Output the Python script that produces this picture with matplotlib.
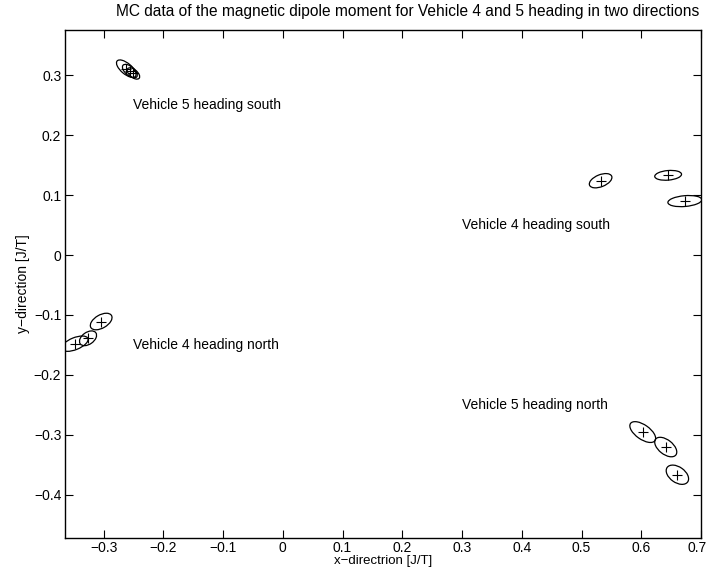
import numpy as np
import matplotlib
matplotlib.use("Agg")
import matplotlib.pyplot as plt
from matplotlib.patches import Ellipse
from matplotlib.transforms import ScaledTranslation

plt.rcParams['font.family'] = ['Liberation Sans', 'DejaVu Sans']

# MC-Daten: Mittelpunkte und Kovarianz-Ellipsen (Breite, Hoehe, Winkel)
v5_south_x = [-0.262, -0.256, -0.250]
v5_south_y = [0.311, 0.307, 0.303]
v5_south_w = [0.040, 0.030, 0.025]
v5_south_h = [0.018, 0.015, 0.013]
v5_south_a = [-40, -40, -40]

v4_north_x = [-0.304, -0.326, -0.348]
v4_north_y = [-0.111, -0.139, -0.148]
v4_north_w = [0.040, 0.032, 0.047]
v4_north_h = [0.022, 0.020, 0.020]
v4_north_a = [30, 35, 22]

v4_south_x = [0.532, 0.645, 0.673]
v4_south_y = [0.124, 0.133, 0.090]
v4_south_w = [0.040, 0.045, 0.057]
v4_south_h = [0.020, 0.016, 0.018]
v4_south_a = [22, 5, 5]

v5_north_x = [0.6025, 0.641, 0.6605]
v5_north_y = [-0.2955, -0.3205, -0.3667]
v5_north_w = [0.050, 0.043, 0.042]
v5_north_h = [0.024, 0.024, 0.026]
v5_north_a = [-35, -38, -35]

labels = ['Vehicle 5 heading south', 'Vehicle 4 heading south',
          'Vehicle 4 heading north', 'Vehicle 5 heading north']
label_x = [-0.25, 0.30, -0.25, 0.30]
label_y = [0.25, 0.05, -0.15, -0.25]

xticks = [-0.3, -0.2, -0.1, 0, 0.1, 0.2, 0.3, 0.4, 0.5, 0.6, 0.7]
yticks = [-0.4, -0.3, -0.2, -0.1, 0, 0.1, 0.2, 0.3]

fig = plt.figure(figsize=(7.09, 5.69), dpi=100)
ax = fig.add_axes([0.0913, 0.0548, 0.8974, 0.8919])

groups = [
    (v5_south_x, v5_south_y, v5_south_w, v5_south_h, v5_south_a),
    (v4_north_x, v4_north_y, v4_north_w, v4_north_h, v4_north_a),
    (v4_south_x, v4_south_y, v4_south_w, v4_south_h, v4_south_a),
    (v5_north_x, v5_north_y, v5_north_w, v5_north_h, v5_north_a),
]
for gx, gy, gw, gh, ga in groups:
    ax.plot(gx, gy, '+', color='black', markersize=6.5, markeredgewidth=0.8)
    for x, y, w, h, a in zip(gx, gy, gw, gh, ga):
        ax.add_patch(Ellipse((x, y), w, h, angle=a, fill=False,
                             edgecolor='black', linewidth=0.9))

for t, x, y in zip(labels, label_x, label_y):
    ax.text(x, y, t, fontsize=10, ha='left', va='center')

ax.set_xlim(-0.365, 0.7)
ax.set_ylim(-0.472, 0.375)
ax.set_xticks(xticks)
ax.set_yticks(yticks)
ax.set_xticklabels([('%g' % v).replace('-', '\u2212') for v in xticks])
ax.set_yticklabels([('%g' % v).replace('-', '\u2212') for v in yticks])
ax.tick_params(direction='in', top=True, right=True, length=5.5, width=0.8,
               labelsize=10)
ax.tick_params(axis='x', pad=2)
ax.tick_params(axis='y', pad=2.5)
for s in ax.spines.values():
    s.set_linewidth(1.0)

# letztes Label etwas nach links, damit es nicht abgeschnitten wird
last = ax.get_xticklabels()[-1]
last.set_transform(last.get_transform() + ScaledTranslation(-3 / 72, 0, fig.dpi_scale_trans))

ax.set_xlabel('x\u2212directrion [J/T]', fontsize=9.5, labelpad=0)
ax.set_ylabel('y\u2212direction [J/T]', fontsize=10, labelpad=3)
ax.set_title('MC data of the magnetic dipole moment for Vehicle 4 and 5 heading in two directions',
             fontsize=11.2, pad=10, x=0.539)

fig.savefig('out.png', dpi=100)
